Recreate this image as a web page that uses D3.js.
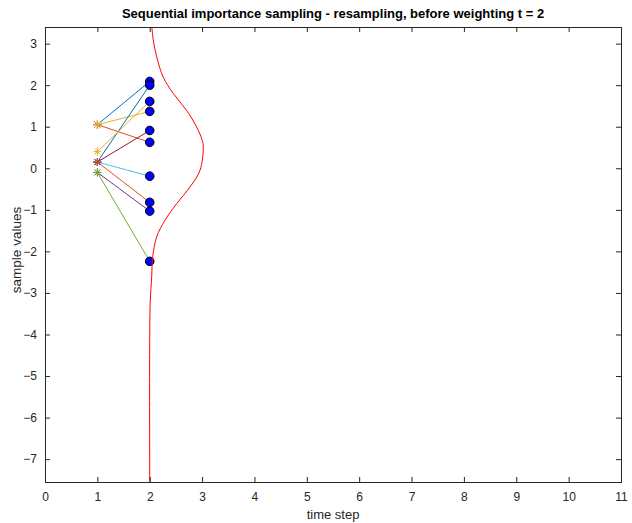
<!DOCTYPE html>
<html>
<head>
<meta charset="utf-8">
<script src="https://cdn.jsdelivr.net/npm/d3@7"></script>
<style>
  body { margin: 0; background: #fff; }
  svg { display: block; font-family: "Liberation Sans", Arial, sans-serif; }
</style>
</head>
<body>
<div id="chart"></div>
<script>
// particles at t = 1 (source) and t = 2 (resampled), one line per particle
const prevValues = [1.05, 1.05, 1.05, -0.1, -0.1, 0.15, 0.15, 0.15, 0.15, 0.4];
const newValues = [2.09, 0.625, 1.37, -1.03, -2.24, -0.19, 0.91, 2.0, -0.82, 1.61];
const particleColors = ['#0072BD', '#D95319', '#EDB120', '#7E2F8E', '#77AC30', '#4DBEEE', '#A2142F', '#0072BD', '#D95319', '#EDB120'];

// red density curve drawn at t = 2 (sample value, time position)
const curveY = [3.44, 3.08, 2.68, 2.19, 1.80, 1.39, 0.99, 0.67, 0.51, -0.05, -0.45, -0.85, -1.25, -1.65, -2.13, -2.61, -3.2, -4.0, -7.55];
const curveX = [2.038, 2.068, 2.133, 2.259, 2.45, 2.706, 2.897, 3.004, 3.023, 2.96, 2.769, 2.515, 2.292, 2.133, 2.057, 2.038, 2.01, 2.0, 2.0];

const xTicks = [0, 1, 2, 3, 4, 5, 6, 7, 8, 9, 10, 11];
const yTicks = [3, 2, 1, 0, -1, -2, -3, -4, -5, -6, -7];

const W = 632, H = 523;
const m = {left: 45, right: 11, top: 27, bottom: 41};
const iw = W - m.left - m.right, ih = H - m.top - m.bottom;

const svg = d3.select('#chart').append('svg')
    .attr('width', W)
    .attr('height', H);

const x = d3.scaleLinear().domain([0, 11]).range([0, iw]);
const y = d3.scaleLinear().domain([-7.55, 3.4]).range([ih, 0]);

const g = svg.append('g').attr('transform', `translate(${m.left},${m.top})`);

svg.append('defs').append('clipPath').attr('id', 'clip')
    .append('rect').attr('width', iw).attr('height', ih);

const plot = g.append('g').attr('clip-path', 'url(#clip)');

// particle lines
prevValues.forEach((v, i) => {
    plot.append('line')
        .attr('x1', x(1)).attr('y1', y(v))
        .attr('x2', x(2)).attr('y2', y(newValues[i]))
        .attr('stroke', particleColors[i])
        .attr('stroke-width', 1);
});

// asterisk markers at t = 1
const s = 4;
prevValues.forEach((v, i) => {
    const star = plot.append('g')
        .attr('transform', `translate(${x(1)},${y(v)})`)
        .attr('stroke', particleColors[i])
        .attr('stroke-width', 1);
    star.append('line').attr('x1', -s).attr('x2', s).attr('y1', 0).attr('y2', 0);
    star.append('line').attr('x1', 0).attr('x2', 0).attr('y1', -s).attr('y2', s);
    star.append('line').attr('x1', -s * 0.72).attr('x2', s * 0.72).attr('y1', -s * 0.72).attr('y2', s * 0.72);
    star.append('line').attr('x1', -s * 0.72).attr('x2', s * 0.72).attr('y1', s * 0.72).attr('y2', -s * 0.72);
});

// resampled particles
plot.selectAll('circle.p')
    .data(newValues)
    .join('circle')
    .attr('class', 'p')
    .attr('cx', x(2))
    .attr('cy', d => y(d))
    .attr('r', 4.3)
    .attr('fill', '#0000ff')
    .attr('stroke', '#000')
    .attr('stroke-width', 1);

// density curve
const curvePts = curveY.map((v, i) => [curveX[i], v]);
plot.append('path')
    .datum(curvePts)
    .attr('fill', 'none')
    .attr('stroke', '#ff0000')
    .attr('stroke-width', 1)
    .attr('d', d3.line().x(d => x(d[0])).y(d => y(d[1])).curve(d3.curveCatmullRom));

// axes
const axisColor = '#262626';
const tl = 5;
const xb = g.append('g').attr('transform', `translate(0,${ih})`)
    .call(d3.axisBottom(x).tickValues(xTicks).tickSize(-tl).tickPadding(10).tickFormat(d3.format('d')));
const xt = g.append('g')
    .call(d3.axisTop(x).tickValues(xTicks).tickSize(-tl).tickFormat(''));
const yl = g.append('g')
    .call(d3.axisLeft(y).tickValues(yTicks).tickSize(-tl).tickPadding(8).tickFormat(d3.format('d')));
const yr = g.append('g').attr('transform', `translate(${iw},0)`)
    .call(d3.axisRight(y).tickValues(yTicks).tickSize(-tl).tickFormat(''));

[xb, xt, yl, yr].forEach(a => {
    a.select('.domain').attr('stroke', axisColor).attr('stroke-width', 1);
    a.selectAll('.tick line').attr('stroke', axisColor);
    a.selectAll('.tick text').attr('fill', axisColor).style('font-size', '12px');
});
xb.selectAll('.tick text').attr('dy', '0.71em');

// outer box
g.append('rect')
    .attr('width', iw).attr('height', ih)
    .attr('fill', 'none')
    .attr('stroke', axisColor)
    .attr('stroke-width', 1)
    .attr('shape-rendering', 'crispEdges');

// labels
svg.append('text')
    .attr('x', m.left + iw / 2).attr('y', 18)
    .attr('text-anchor', 'middle')
    .style('font-size', '13px').style('font-weight', 'bold')
    .attr('fill', '#000')
    .text('Sequential importance sampling - resampling, before weighting t = 2');

svg.append('text')
    .attr('x', m.left + iw / 2).attr('y', 519)
    .attr('text-anchor', 'middle')
    .style('font-size', '13px')
    .attr('fill', axisColor)
    .text('time step');

svg.append('text')
    .attr('transform', `translate(21,250) rotate(-90)`)
    .attr('text-anchor', 'middle')
    .style('font-size', '13.5px')
    .attr('fill', axisColor)
    .text('sample values');
</script>
</body>
</html>
